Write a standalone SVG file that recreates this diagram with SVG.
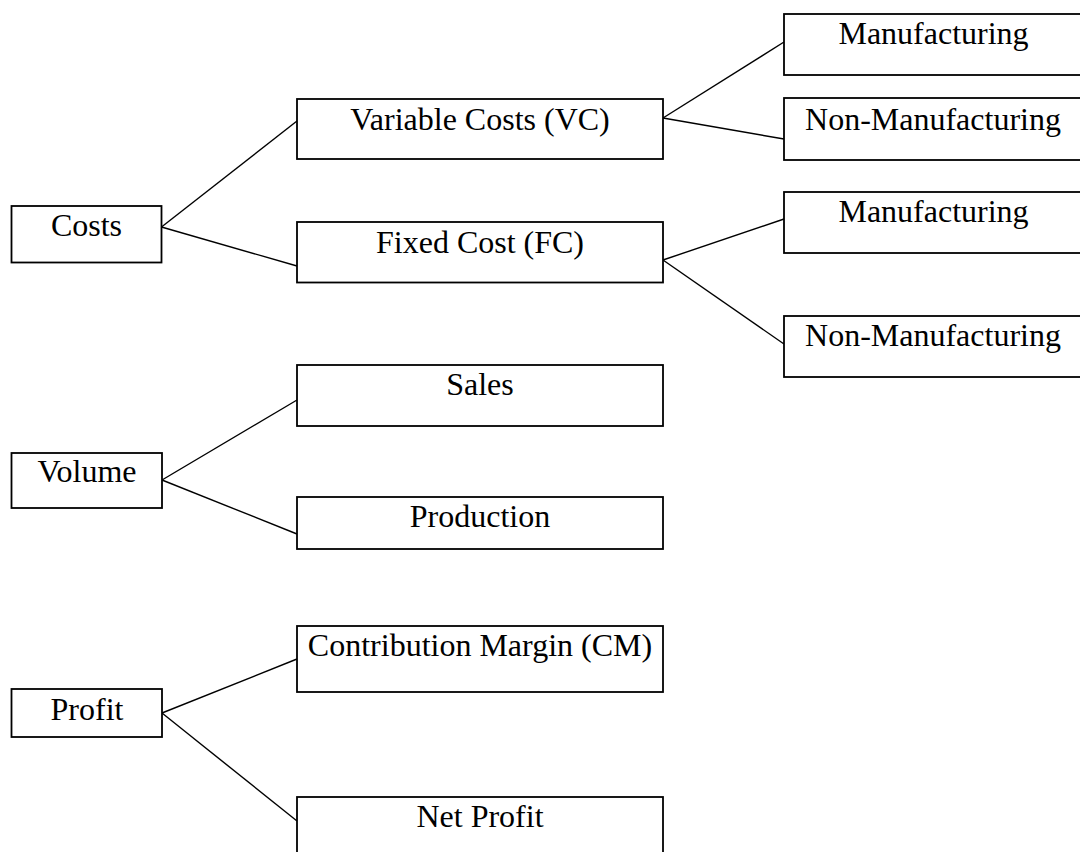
<svg xmlns="http://www.w3.org/2000/svg" width="1080" height="852" viewBox="0 0 1080 852">
<style>
.box{fill:#fff;stroke:#000;stroke-width:1.8}
.lbl{font-family:"Liberation Serif","Times New Roman",serif;font-size:32px;fill:#000;text-anchor:middle}
.conn line{stroke:#000;stroke-width:1.4}
</style>
<rect width="1080" height="852" fill="#fff"/>
<g class="conn" id="connectors">
<line x1="161.5" y1="227" x2="297" y2="121"/>
<line x1="161.5" y1="227" x2="297" y2="266"/>
<line x1="663" y1="118" x2="784" y2="42"/>
<line x1="663" y1="118" x2="784" y2="139"/>
<line x1="663" y1="260" x2="784" y2="219"/>
<line x1="663" y1="260" x2="784" y2="344"/>
<line x1="162" y1="480" x2="297" y2="400"/>
<line x1="162" y1="480" x2="297" y2="534"/>
<line x1="162" y1="713" x2="297" y2="659"/>
<line x1="162" y1="713" x2="297" y2="821"/>
</g>
<g id="costs"><rect class="box" x="11.5" y="206" width="150" height="56.5"/><text class="lbl" x="86.5" y="236">Costs</text></g>
<g id="volume"><rect class="box" x="11.5" y="453" width="150.5" height="55"/><text class="lbl" x="87" y="482">Volume</text></g>
<g id="profit"><rect class="box" x="11.5" y="689" width="150.5" height="48"/><text class="lbl" x="87" y="719.5">Profit</text></g>
<g id="vc"><rect class="box" x="297" y="99" width="366" height="60"/><text class="lbl" x="480" y="129.5">Variable Costs (VC)</text></g>
<g id="fc"><rect class="box" x="297" y="222" width="366" height="60.5"/><text class="lbl" x="480" y="253">Fixed Cost (FC)</text></g>
<g id="sales"><rect class="box" x="297" y="365" width="366" height="61"/><text class="lbl" x="480" y="395">Sales</text></g>
<g id="production"><rect class="box" x="297" y="497" width="366" height="52"/><text class="lbl" x="480" y="527">Production</text></g>
<g id="cm"><rect class="box" x="297" y="626" width="366" height="66"/><text class="lbl" x="480" y="656">Contribution Margin (CM)</text></g>
<g id="netprofit"><rect class="box" x="297" y="797" width="366" height="65"/><text class="lbl" x="480" y="827">Net Profit</text></g>
<g id="vc-mfg"><rect class="box" x="784" y="14" width="300" height="61"/><text class="lbl" x="933.5" y="43.5">Manufacturing</text></g>
<g id="vc-nonmfg"><rect class="box" x="784" y="98" width="300" height="62"/><text class="lbl" x="933" y="129.5">Non-Manufacturing</text></g>
<g id="fc-mfg"><rect class="box" x="784" y="192" width="300" height="61"/><text class="lbl" x="933.5" y="222">Manufacturing</text></g>
<g id="fc-nonmfg"><rect class="box" x="784" y="316" width="300" height="61"/><text class="lbl" x="933" y="346">Non-Manufacturing</text></g>
</svg>
